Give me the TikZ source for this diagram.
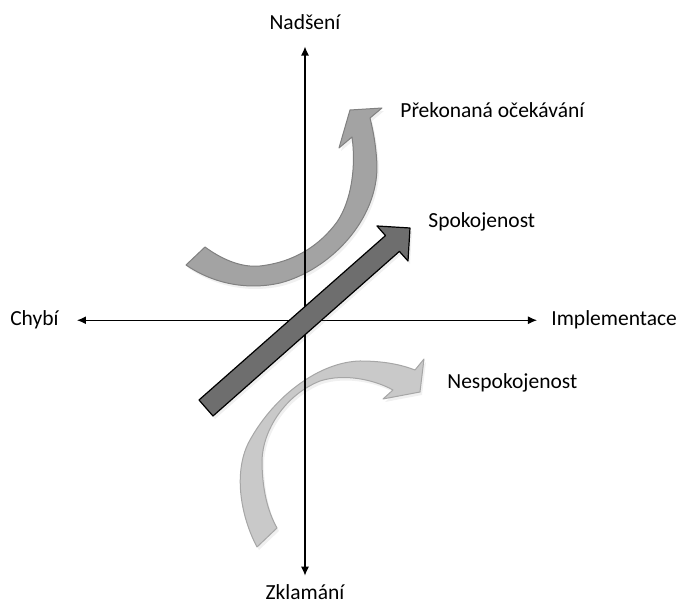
\documentclass[tikz,border=0pt]{standalone}
\usepackage{fontspec}
\setmainfont{Carlito}
\usetikzlibrary{arrows.meta,shadows}

\begin{document}
\begin{tikzpicture}[x=0.5pt,y=-0.5pt,>={Latex[length=4.5pt,width=4pt]},line join=round,
  lab/.style={font=\fontsize{10.75}{13}\selectfont,inner sep=0pt},
  axis/.style={<->,line width=0.6pt},
  band/.style={line width=0.5pt,drop shadow={shadow xshift=1pt,shadow yshift=-1.5pt,opacity=0.12}}]
  \useasboundingbox (0,0) rectangle (677,608);
  % axis labels
  \node[lab,anchor=base] (nadseni) at (305,30) {Nadšení};
  \node[lab,anchor=base] (zklamani) at (305,600) {Zklamání};
  \node[lab,anchor=base east] (chybi) at (59,326) {Chybí};
  \node[lab,anchor=base west] (impl) at (551,326) {Implementace};
  % arrow labels
  \node[lab,anchor=base west] (prekonana) at (400,118) {Překonaná očekávání};
  \node[lab,anchor=base west] (spokojenost) at (428,228) {Spokojenost};
  \node[lab,anchor=base west] (nespokojenost) at (447,389) {Nespokojenost};

  % curved arrows
  \draw[band,draw=black!50,fill=black!36] (205,247) -- (186,265)
    .. controls (215,285) and (250,290) .. (280,283)
    .. controls (330,270) and (378,220) .. (377,165)
    .. controls (376,145) and (373,130) .. (370,118)
    -- (382,108) -- (350,110) -- (339,148) -- (352,137)
    .. controls (356,165) and (352,200) .. (337,222)
    .. controls (320,245) and (295,262) .. (260,266)
    .. controls (240,268) and (220,258) .. (205,247) -- cycle;
  \draw[band,draw=black!35,fill=black!21] (277,528) -- (257,547)
    .. controls (240,515) and (233,470) .. (250,440)
    .. controls (275,395) and (320,362) .. (360,361)
    .. controls (385,361) and (402,365) .. (415,370)
    -- (424,359) -- (420,392) -- (383,399) -- (393,390)
    .. controls (375,380) and (345,373) .. (320,381)
    .. controls (285,395) and (263,430) .. (262,460)
    .. controls (262,490) and (268,512) .. (277,528) -- cycle;

  % axes
  \draw[axis,shorten <=9pt,shorten >=7pt] (chybi.east) -- (impl.west);
  \draw[axis,shorten <=8pt,shorten >=4.5pt] (nadseni.south) -- (zklamani.north);

  % straight arrow
  \draw[band,line width=0.6pt,fill=black!57] (199,400) -- (385.5,235.6) -- (377,226)
    -- (410,228) -- (408,261) -- (399.4,251.4) -- (213,416) -- cycle;
\end{tikzpicture}
\end{document}
